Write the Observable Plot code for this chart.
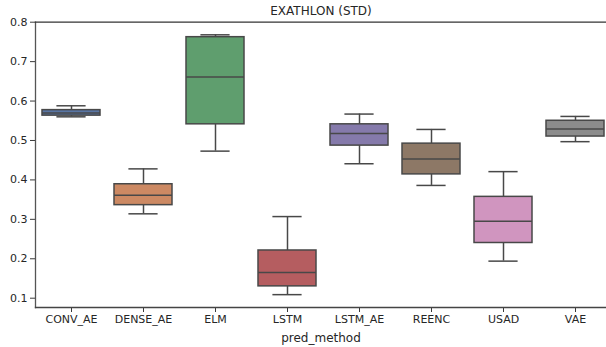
<!DOCTYPE html>
<html>
<head>
<meta charset="utf-8">
<script src="https://cdn.jsdelivr.net/npm/d3@7"></script>
<script src="https://cdn.jsdelivr.net/npm/@observablehq/plot@0.6"></script>
<style>
  html, body { margin: 0; padding: 0; background: #fff; }
</style>
</head>
<body>
<div id="chart"></div>
<script>
const methods = ["CONV_AE", "DENSE_AE", "ELM", "LSTM", "LSTM_AE", "REENC", "USAD", "VAE"];
const whiskerLow  = [0.560, 0.314, 0.473, 0.109, 0.441, 0.386, 0.194, 0.497];
const q1          = [0.563, 0.336, 0.541, 0.130, 0.487, 0.414, 0.240, 0.510];
const median      = [0.570, 0.361, 0.661, 0.165, 0.518, 0.453, 0.295, 0.529];
const q3          = [0.577, 0.389, 0.762, 0.221, 0.541, 0.492, 0.357, 0.550];
const whiskerHigh = [0.588, 0.428, 0.768, 0.307, 0.567, 0.528, 0.421, 0.561];
const colors = ["#5875a4", "#cc8963", "#5f9e6e", "#b55d60", "#857aab", "#8d7866", "#d095bf", "#8c8c8c"];
const yTicks = [0.1, 0.2, 0.3, 0.4, 0.5, 0.6, 0.7, 0.8];
const title = "EXATHLON (STD)";
const xLabel = "pred_method";

const data = methods.map((m, i) => ({
  method: m, lo: whiskerLow[i], q1: q1[i], med: median[i], q3: q3[i], hi: whiskerHigh[i]
}));
const lineColor = "#484848";

const chart = Plot.plot({
  width: 606,
  height: 347,
  marginLeft: 35,
  marginRight: 0,
  marginTop: 21.7,
  marginBottom: 40,
  style: {fontFamily: "DejaVu Sans, sans-serif", fontSize: "11px", color: "#262626", background: "#fff"},
  x: {domain: methods, range: [34.7, 610.7], paddingInner: 0.2, paddingOuter: 0.1},
  y: {domain: [0.0764, 0.8]},
  color: {domain: methods, range: colors},
  marks: [
    Plot.ruleX(data, {x: "method", y1: "lo", y2: "q1", stroke: lineColor, strokeWidth: 1.5}),
    Plot.ruleX(data, {x: "method", y1: "q3", y2: "hi", stroke: lineColor, strokeWidth: 1.5}),
    Plot.tickY(data, {x: "method", y: "lo", stroke: lineColor, strokeWidth: 1.5, insetLeft: 14.4, insetRight: 14.4}),
    Plot.tickY(data, {x: "method", y: "hi", stroke: lineColor, strokeWidth: 1.5, insetLeft: 14.4, insetRight: 14.4}),
    Plot.barY(data, {x: "method", y1: "q1", y2: "q3", fill: "method", stroke: lineColor, strokeWidth: 1.5}),
    Plot.tickY(data, {x: "method", y: "med", stroke: lineColor, strokeWidth: 1.5}),
    Plot.axisY({ticks: yTicks, tickFormat: d3.format(".1f"), tickSize: 5, tickPadding: 3, label: null, stroke: "#3a3a3a", fill: "#262626"}),
    Plot.axisX({tickSize: 5, tickPadding: 3, label: null, stroke: "#3a3a3a", fill: "#262626"}),
    Plot.frame({anchor: "left", stroke: "#555", strokeWidth: 1.3}),
    Plot.frame({anchor: "top", stroke: "#333", strokeWidth: 1.3}),
    Plot.frame({anchor: "bottom", stroke: "#444", strokeWidth: 1.3}),
    Plot.text([title], {frameAnchor: "top", dy: -11, lineAnchor: "middle", fontSize: 12, fill: "#262626"}),
    Plot.text([xLabel], {frameAnchor: "bottom", dy: 31, lineAnchor: "middle", fontSize: 12, fill: "#262626"})
  ]
});
document.getElementById("chart").appendChild(chart);
</script>
</body>
</html>
